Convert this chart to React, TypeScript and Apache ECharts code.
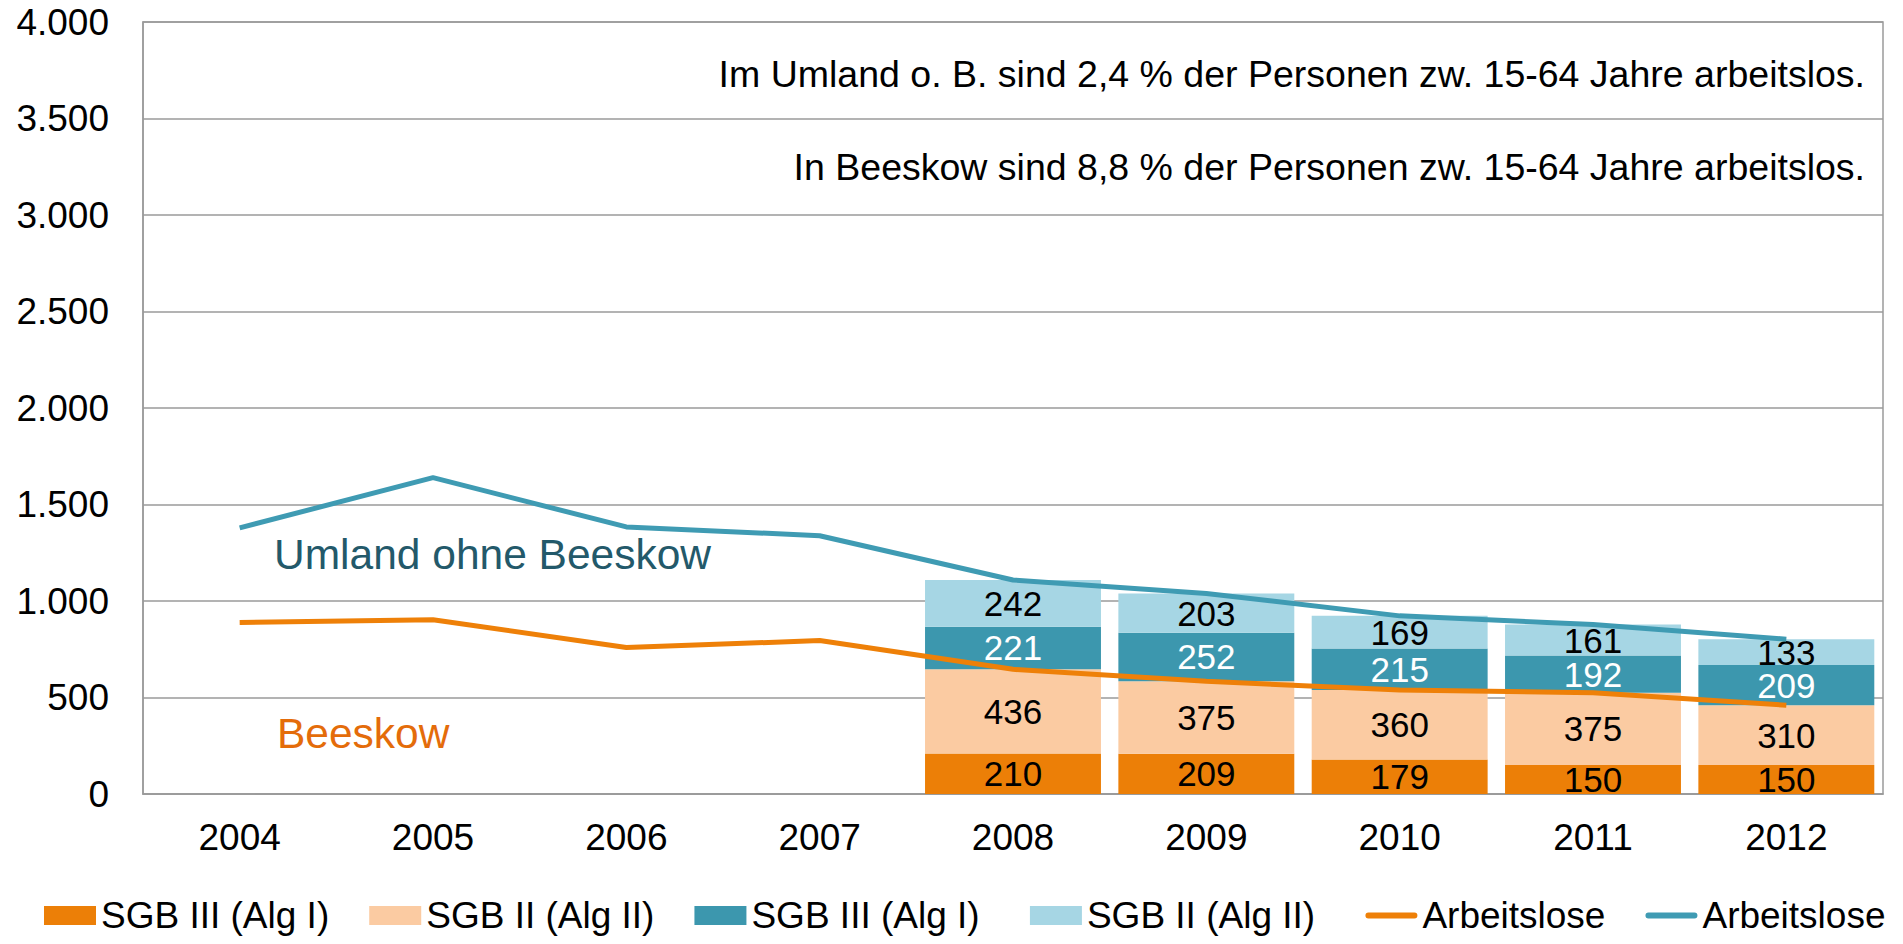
import React, { useEffect, useRef } from "react";
import * as echarts from "echarts";

const years = ["2004", "2005", "2006", "2007", "2008", "2009", "2010", "2011", "2012"];
const beeskowSgb3 = [null, null, null, null, 210, 209, 179, 150, 150];
const beeskowSgb2 = [null, null, null, null, 436, 375, 360, 375, 310];
const umlandSgb3 = [null, null, null, null, 221, 252, 215, 192, 209];
const umlandSgb2 = [null, null, null, null, 242, 203, 169, 161, 133];
const beeskowTotal = [889, 903, 759, 795, 646, 584, 539, 525, 460];
const umlandTotal = [1379, 1639, 1384, 1338, 1109, 1039, 923, 878, 802];
const legendNames = ["SGB III (Alg I)", "SGB II (Alg II)", "SGB III (Alg I) ", "SGB II (Alg II) ", "Arbeitslose", "Arbeitslose "];
const noteUmland = "Im Umland o. B. sind 2,4 % der Personen zw. 15-64 Jahre arbeitslos.";
const noteBeeskow = "In Beeskow sind 8,8 % der Personen zw. 15-64 Jahre arbeitslos.";

const FONT = "'Liberation Sans', Arial, sans-serif";
const C_ORANGE = "#EC7F07";
const C_PEACH = "#FBCBA2";
const C_TEAL = "#3C97AE";
const C_LIGHT = "#A6D6E4";
const C_LINE_ORANGE = "#EE8008";
const C_LINE_TEAL = "#3F9BB3";

export default function App() {
  const ref = useRef<HTMLDivElement>(null);
  useEffect(() => {
    if (!ref.current) return;
    const chart = echarts.init(ref.current, undefined, { renderer: "svg" });
    const barLabel = (color: string) => ({
      show: true,
      position: "inside",
      color,
      fontSize: 35,
      fontFamily: FONT,
    });
    const barSeries = (name: string, data: (number | null)[], color: string, labelColor: string) => ({
      name,
      type: "bar",
      stack: "total",
      data,
      barWidth: "91%",
      itemStyle: { color },
      label: barLabel(labelColor),
      z: 2,
    });
    chart.setOption({
      animation: false,
      textStyle: { fontFamily: FONT },
      grid: {
        left: 143,
        right: 20,
        top: 22,
        bottom: 150,
        show: true,
        borderColor: "#9a9a9a",
        borderWidth: 1.5,
      },
      legend: {
        left: 44,
        top: 897,
        width: 1859,
        padding: 0,
        itemWidth: 52,
        itemHeight: 19,
        itemGap: 40,
        textStyle: { fontSize: 37, color: "#000", fontFamily: FONT },
        data: [
          { name: legendNames[0], icon: "rect" },
          { name: legendNames[1], icon: "rect" },
          { name: legendNames[2], icon: "rect" },
          { name: legendNames[3], icon: "rect" },
          { name: legendNames[4], icon: "path://M3,0 L49,0 A3,3 0 0 1 49,6 L3,6 A3,3 0 0 1 3,0 Z" },
          { name: legendNames[5], icon: "path://M3,0 L49,0 A3,3 0 0 1 49,6 L3,6 A3,3 0 0 1 3,0 Z" },
        ],
      },
      xAxis: {
        type: "category",
        data: years,
        axisTick: { show: false },
        axisLine: { lineStyle: { color: "#9a9a9a", width: 1.5 } },
        axisLabel: { fontSize: 37, color: "#000", margin: 25, fontFamily: FONT },
      },
      yAxis: {
        type: "value",
        min: 0,
        max: 4000,
        interval: 500,
        axisLine: { show: true, lineStyle: { color: "#9a9a9a", width: 1.5 } },
        splitLine: { lineStyle: { color: "#9a9a9a", width: 1.5 } },
        axisLabel: {
          fontSize: 37,
          color: "#000",
          margin: 34,
          fontFamily: FONT,
          formatter: (v: number) => v.toLocaleString("de-DE"),
        },
      },
      series: [
        barSeries(legendNames[0], beeskowSgb3, C_ORANGE, "#000"),
        barSeries(legendNames[1], beeskowSgb2, C_PEACH, "#000"),
        barSeries(legendNames[2], umlandSgb3, C_TEAL, "#fff"),
        barSeries(legendNames[3], umlandSgb2, C_LIGHT, "#000"),
        {
          name: legendNames[4],
          type: "line",
          data: beeskowTotal,
          symbol: "none",
          lineStyle: { color: C_LINE_ORANGE, width: 5 },
          itemStyle: { color: C_LINE_ORANGE },
          z: 3,
        },
        {
          name: legendNames[5],
          type: "line",
          data: umlandTotal,
          symbol: "none",
          lineStyle: { color: C_LINE_TEAL, width: 5 },
          itemStyle: { color: C_LINE_TEAL },
          z: 3,
        },
      ],
      graphic: [
        {
          type: "text",
          right: 38,
          top: 55,
          style: { text: noteUmland, fontSize: 37.5, fill: "#000", fontFamily: FONT },
        },
        {
          type: "text",
          right: 38,
          top: 148,
          style: { text: noteBeeskow, fontSize: 37.5, fill: "#000", fontFamily: FONT },
        },
        {
          type: "text",
          left: 274,
          top: 533,
          style: { text: "Umland ohne Beeskow", fontSize: 42.5, fill: "#23596A", fontFamily: FONT },
        },
        {
          type: "text",
          left: 277,
          top: 712,
          style: { text: "Beeskow", fontSize: 42.5, fill: "#E46C0A", fontFamily: FONT },
        },
      ],
    });
    return () => chart.dispose();
  }, []);
  return (
    <div
      ref={ref}
      style={{ position: "fixed", left: 0, top: 0, width: 1903, height: 944, background: "#fff" }}
    />
  );
}
